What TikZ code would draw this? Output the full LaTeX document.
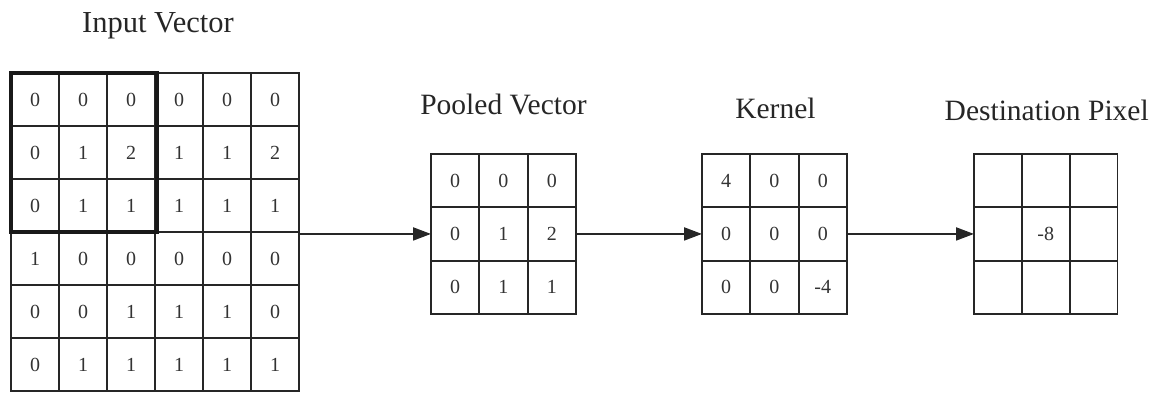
\documentclass[tikz,border=0pt]{standalone}
\usepackage{fontspec}
\setmainfont{Liberation Serif}
\usetikzlibrary{arrows.meta}
\begin{document}
\begin{tikzpicture}[x=1pt,y=-1pt,
  gridbox/.style={draw=black!85, line width=1.8pt, anchor=north west,
    inner sep=0pt, outer sep=0pt},
  gridline/.style={draw=black!85, line width=1.8pt},
  window/.style={draw=black!90, line width=3.4pt},
  num/.style={text=black!80, font=\fontsize{20}{20}\selectfont, inner sep=0pt},
  title/.style={text=black!85, font=\fontsize{29.5}{29.5}\selectfont, anchor=base, inner sep=0pt},
  flow/.style={draw=black!85, line width=2pt, -{Triangle[length=18pt,width=13pt]}}]
\useasboundingbox (0,0) rectangle (1156,393);

% \cellgrid{name}{x}{y}{cols}{rows}{cell width}{cell height}
\newcommand{\cellgrid}[7]{%
  \node[gridbox, minimum width=#4*#6pt, minimum height=#5*#7pt] (#1) at (#2,#3) {};
  \pgfmathtruncatemacro{\lastc}{#4-1}
  \pgfmathtruncatemacro{\lastr}{#5-1}
  \pgfmathsetmacro{\gw}{#4*#6}
  \pgfmathsetmacro{\gh}{#5*#7}
  \foreach \i in {1,...,\lastc}{
    \pgfmathsetmacro{\gx}{\i*#6}
    \draw[gridline] ([shift={(\gx,0)}]#1.north west) -- ([shift={(\gx,\gh)}]#1.north west);
  }
  \foreach \j in {1,...,\lastr}{
    \pgfmathsetmacro{\gy}{\j*#7}
    \draw[gridline] ([shift={(0,\gy)}]#1.north west) -- ([shift={(\gw,\gy)}]#1.north west);
  }
}
% \fillgrid{name}{cell width}{cell height}{rows of values}
\newcommand{\fillgrid}[4]{%
  \foreach \row [count=\r] in {#4}{
    \foreach \v [count=\c] in \row {
      \pgfmathsetmacro{\px}{(\c-0.5)*#2}
      \pgfmathsetmacro{\py}{(\r-0.5)*#3}
      \node[num] at ([shift={(\px,\py)}]#1.north west) {\v};
    }
  }
}

% input vector, 6x6, with the 3x3 window at the top left
\cellgrid{input}{11}{73}{6}{6}{48}{53}
\fillgrid{input}{48}{53}{{0,0,0,0,0,0},{0,1,2,1,1,2},{0,1,1,1,1,1},{1,0,0,0,0,0},{0,0,1,1,1,0},{0,1,1,1,1,1}}
\draw[window] (input.north west) rectangle ([shift={(146,159)}]input.north west);

% pooled vector
\cellgrid{pooled}{431}{154}{3}{3}{48.3}{53.3}
\fillgrid{pooled}{48.3}{53.3}{{0,0,0},{0,1,2},{0,1,1}}

% kernel
\cellgrid{kernel}{702}{154}{3}{3}{48.3}{53.3}
\fillgrid{kernel}{48.3}{53.3}{{4,0,0},{0,0,0},{0,0,-4}}

% destination pixel
\cellgrid{dest}{974}{154}{3}{3}{47.8}{53.3}
\node[num] (result) at (dest.center) {-8};

% titles
\node[title, font=\fontsize{30.5}{30.5}\selectfont] (tinput) at ([shift={(3,-40)}]input.north) {Input Vector};
\node[title] (tpooled) at ([yshift=39pt]pooled.north) {Pooled Vector};
\node[title] (tkernel) at ([shift={(1,-35)}]kernel.north) {Kernel};
\node[title] (tdest)   at ([shift={(1,-33)}]dest.north)   {Destination Pixel};

% data flow
\draw[flow] (input.east |- pooled.west) -- (pooled.west);
\draw[flow] (pooled.east) -- (kernel.west);
\draw[flow] (kernel.east) -- (dest.west);
\end{tikzpicture}
\end{document}
